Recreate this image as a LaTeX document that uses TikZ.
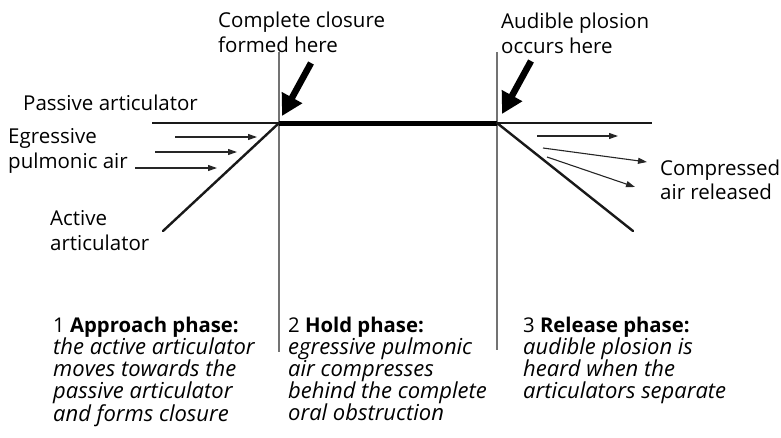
\documentclass[tikz,border=0pt]{standalone}
\usepackage{fontspec}
\setmainfont{Open Sans}
\usetikzlibrary{arrows.meta}
\newcommand{\phit}[1]{{\fontsize{22}{22}\selectfont\itshape #1}}
\tikzset{
  lbl/.style={anchor=base west, inner sep=0pt, font=\fontsize{20.5}{20.5}\selectfont},
  phase/.style={anchor=north west, inner sep=0pt, align=left, font=\fontsize{20.3}{22}\selectfont},
  artic/.style={line width=2.4pt, draw=black!90},
  hold/.style={line width=5pt, draw=black},
  guide/.style={line width=1.1pt, draw=black!55},
  airarrow/.style={line width=1.1pt, draw=black!85, -{Triangle[length=9pt,width=6pt]}},
  bigarrow/.style={line width=6.5pt, draw=black, -{Triangle[length=21pt,width=22pt]}}
}
\begin{document}
\begin{tikzpicture}[x=1pt,y=-1pt]
\useasboundingbox (0,0) rectangle (781,437);
% key points
\coordinate (pL) at (152,123);
\coordinate (pR) at (652,123);
\coordinate (c1) at (279,123);
\coordinate (c2) at (497,123);
\coordinate (aEnd) at (163,231);
\coordinate (rEnd) at (633,231);
\coordinate (g1t) at (279,52);
\coordinate (g1b) at (279,352);
\coordinate (g2t) at (497,52);
\coordinate (g2b) at (497,350);
% guides
\draw[guide] (g1t) -- (g1b);
\draw[guide] (g2t) -- (g2b);
% articulators
\draw[artic] (pL) -- (pR);
\draw[hold] (c1) -- (c2);
\draw[artic, line cap=round] (c1) -- (aEnd);
\draw[artic, line cap=round] (c2) -- (rEnd);
% air arrows left
\coordinate (la1) at (175,137); \coordinate (lb1) at (257,137);
\coordinate (la2) at (155,152); \coordinate (lb2) at (237,152);
\coordinate (la3) at (135,168); \coordinate (lb3) at (217,168);
\draw[airarrow] (la1) -- (lb1);
\draw[airarrow] (la2) -- (lb2);
\draw[airarrow] (la3) -- (lb3);
% air arrows right
\coordinate (ra1) at (537,136); \coordinate (rb1) at (618,136);
\coordinate (ra2) at (543,148); \coordinate (rb2) at (647,162);
\coordinate (ra3) at (547,157); \coordinate (rb3) at (635,187);
\draw[airarrow] (ra1) -- (rb1);
\draw[airarrow] (ra2) -- (rb2);
\draw[airarrow] (ra3) -- (rb3);
% big arrows
\coordinate (t1) at (311,63); \coordinate (h1) at (282,116);
\coordinate (t2) at (531,61); \coordinate (h2) at (502,114);
\draw[bigarrow] (t1) -- (h1);
\draw[bigarrow] (t2) -- (h2);
% labels
\node[lbl] (cc1) at (218,27) {Complete closure};
\node[lbl] (cc2) at (218,52) {formed here};
\node[lbl] (ap1) at (501,28) {Audible plosion};
\node[lbl] (ap2) at (501,53) {occurs here};
\node[lbl] (pa) at (23,110) {Passive articulator};
\node[lbl] (eg1) at (8,143) {Egressive};
\node[lbl] (eg2) at (8,168) {pulmonic air};
\node[lbl] (ac1) at (50,225) {Active};
\node[lbl] (ac2) at (50,250) {articulator};
\node[lbl] (cp1) at (660,175) {Compressed};
\node[lbl] (cp2) at (660,199) {air released};
% phases
\node[phase] (ph1) at (53,317) {1 \textbf{Approach phase:}\\\phit{the active articulator}\\\phit{moves towards the}\\\phit{passive articulator}\\\phit{and forms closure}};
\node[phase] (ph2) at (288,317) {2 \textbf{Hold phase:}\\\phit{egressive pulmonic}\\\phit{air compresses}\\\phit{behind the complete}\\\phit{oral obstruction}};
\node[phase] (ph3) at (523,317) {3 \textbf{Release phase:}\\\phit{audible plosion is}\\\phit{heard when the}\\\phit{articulators separate}};
\end{tikzpicture}
\end{document}
